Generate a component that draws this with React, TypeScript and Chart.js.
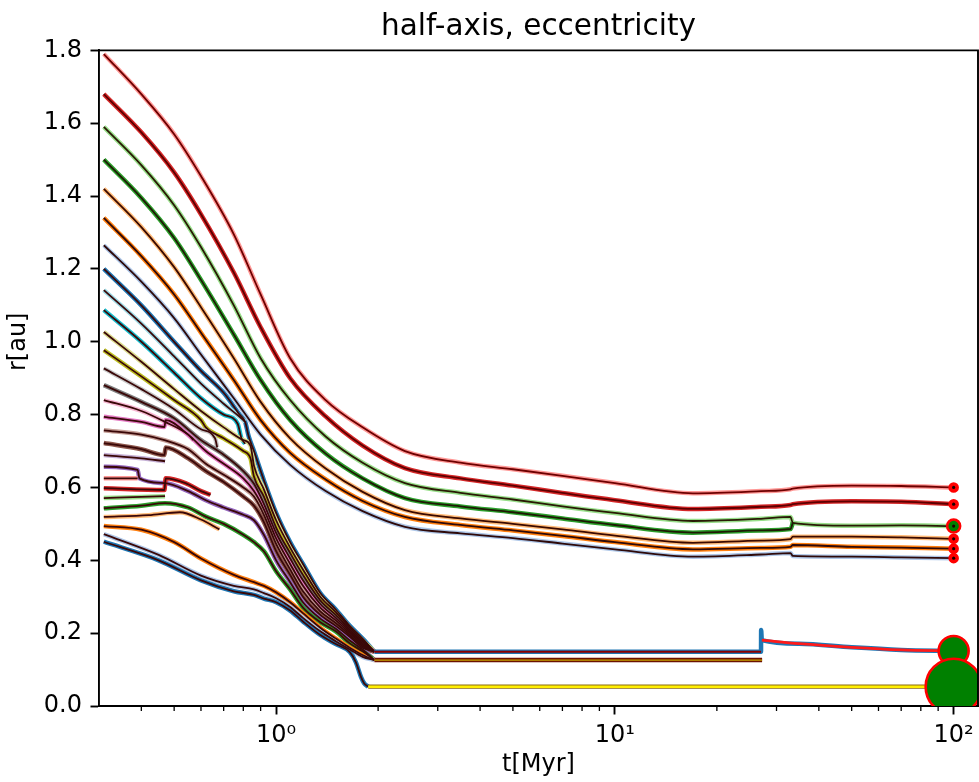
import React, { useEffect, useRef } from 'react';
import { Chart, registerables } from 'chart.js';
Chart.register(...registerables);

// ---------- palette (tab20) ----------
const TAB20 = ['#1f77b4', '#aec7e8', '#ff7f0e', '#ffbb78', '#2ca02c', '#98df8a', '#d62728', '#ff9896', '#9467bd', '#c5b0d5',
  '#8c564b', '#c49c94', '#e377c2', '#f7b6d2', '#7f7f7f', '#c7c7c7', '#bcbd22', '#dbdb8d', '#17becf', '#9edae5'];

// ---------- axis ticks ----------
const X_MAJOR_TICKS = [1, 10, 100];
const X_MAJOR_LABELS = ['10\u2070', '10\u00b9', '10\u00b2'];
const X_MINOR_TICKS = [0.4, 0.5, 0.6, 0.7, 0.8, 0.9, 2, 3, 4, 5, 6, 7, 8, 9, 20, 30, 40, 50, 60, 70, 80, 90];
const Y_TICKS = [0, 0.2, 0.4, 0.6, 0.8, 1.0, 1.2, 1.4, 1.6, 1.8];
const Y_TITLE = 'r[au]';

// ---------- outer (surviving) planets: common time grid [Myr] ----------
const T_OUT = [0.31, 0.4, 0.5, 0.6, 0.75, 0.9, 1.1, 1.4, 1.8, 2.4, 3.5, 5, 7, 10, 17, 27, 33, 33.5, 50, 70, 100];
const R_OUT_27 = [1.79, 1.68, 1.57, 1.455, 1.295, 1.13, 0.955, 0.84, 0.765, 0.70, 0.668, 0.65, 0.632, 0.612, 0.584, 0.590, 0.595, 0.597, 0.605, 0.604, 0.600];
const R_OUT_26 = [1.68, 1.575, 1.465, 1.35, 1.19, 1.04, 0.90, 0.795, 0.715, 0.653, 0.625, 0.605, 0.585, 0.565, 0.541, 0.547, 0.552, 0.554, 0.562, 0.561, 0.554];
const R_OUT_25 = [1.59, 1.485, 1.375, 1.26, 1.10, 0.955, 0.84, 0.74, 0.668, 0.612, 0.585, 0.567, 0.548, 0.530, 0.508, 0.514, 0.519, 0.503, 0.495, 0.496, 0.494];
const R_OUT_24 = [1.50, 1.395, 1.285, 1.17, 1.02, 0.895, 0.785, 0.693, 0.625, 0.571, 0.548, 0.532, 0.515, 0.497, 0.476, 0.482, 0.486, 0.503, null, null, null];
const R_OUT_23 = [1.42, 1.315, 1.205, 1.095, 0.955, 0.835, 0.735, 0.652, 0.588, 0.538, 0.515, 0.50, 0.485, 0.468, 0.448, 0.454, 0.458, 0.465, 0.465, 0.463, 0.459];
const R_OUT_22 = [1.34, 1.235, 1.13, 1.025, 0.895, 0.785, 0.695, 0.622, 0.563, 0.519, 0.497, 0.482, 0.467, 0.45, 0.43, 0.434, 0.437, 0.442, 0.437, 0.435, 0.432];
const R_OUT_21 = [1.265, 1.165, 1.065, 0.965, 0.845, 0.745, 0.662, 0.59, 0.535, 0.492, 0.474, 0.461, 0.446, 0.43, 0.41, 0.416, 0.42, 0.412, 0.41, 0.408, 0.406];

// ---------- inner planets: early tracks [t, r] ----------
const P20 = [[0.31, 1.20], [0.4, 1.10], [0.5, 1.00], [0.6, 0.92], [0.7, 0.86], [0.78, 0.80], [0.81, 0.78], [0.83, 0.74]];
const P19 = [[0.31, 1.142], [0.4, 1.05], [0.5, 0.96], [0.6, 0.885], [0.7, 0.83], [0.8, 0.785], [0.81, 0.78]];
const P18 = [[0.31, 1.087], [0.4, 1.0], [0.5, 0.915], [0.6, 0.845], [0.7, 0.80], [0.77, 0.775], [0.79, 0.735], [0.81, 0.72]];
const P17 = [[0.31, 1.027], [0.4, 0.945], [0.5, 0.87], [0.6, 0.81], [0.7, 0.765], [0.8, 0.73], [0.84, 0.715]];
const P16 = [[0.31, 0.977], [0.4, 0.905], [0.5, 0.84], [0.6, 0.785], [0.62, 0.765], [0.7, 0.735], [0.8, 0.70], [0.84, 0.68]];
const P15 = [[0.31, 0.927], [0.4, 0.87], [0.5, 0.815], [0.6, 0.76], [0.66, 0.735], [0.67, 0.71]];
const P14 = [[0.31, 0.881], [0.4, 0.835], [0.5, 0.79], [0.6, 0.73], [0.7, 0.69], [0.8, 0.645]];
const P13 = [[0.31, 0.84], [0.4, 0.81], [0.47, 0.78], [0.55, 0.745], [0.57, 0.73]];
const P12 = [[0.31, 0.794], [0.4, 0.78], [0.468, 0.766], [0.472, 0.785], [0.55, 0.745], [0.62, 0.70], [0.7, 0.665], [0.8, 0.625]];
const P11 = [[0.31, 0.757], [0.4, 0.745], [0.468, 0.73], [0.55, 0.705], [0.62, 0.665], [0.7, 0.635], [0.8, 0.60]];
const P10 = [[0.31, 0.722], [0.4, 0.705], [0.468, 0.689], [0.472, 0.71], [0.55, 0.68], [0.62, 0.645], [0.7, 0.615], [0.8, 0.575]];
const P09 = [[0.31, 0.689], [0.4, 0.68], [0.47, 0.672]];
const P08 = [[0.31, 0.657], [0.39, 0.648], [0.395, 0.625], [0.468, 0.612], [0.55, 0.59], [0.62, 0.565], [0.7, 0.545], [0.8, 0.525]];
const P07 = [[0.31, 0.625], [0.39, 0.625]];
const P06 = [[0.31, 0.598], [0.468, 0.593], [0.472, 0.625], [0.54, 0.612], [0.6, 0.59], [0.64, 0.58]];
const P05 = [[0.31, 0.571], [0.4, 0.574], [0.47, 0.576]];
const P04 = [[0.31, 0.543], [0.4, 0.55], [0.47, 0.557], [0.55, 0.545], [0.62, 0.52], [0.7, 0.50], [0.8, 0.47]];
const P03 = [[0.31, 0.519], [0.42, 0.524], [0.52, 0.532], [0.6, 0.512], [0.68, 0.485]];
const P02 = [[0.31, 0.494], [0.4, 0.484], [0.5, 0.45], [0.6, 0.405], [0.75, 0.36]];
const P01 = [[0.31, 0.472], [0.45, 0.415], [0.6, 0.358], [0.75, 0.33]];
const P00 = [[0.31, 0.451], [0.45, 0.40], [0.6, 0.345], [0.75, 0.315]];

// ---------- inner planets: converging bundle ----------
const T_BUNDLE = [0.86, 0.92, 1.0, 1.1, 1.2, 1.35, 1.5, 1.65, 1.8, 1.95];
const B20 = [0.70, 0.62, 0.53, 0.45, 0.39, 0.31, 0.265, 0.22, 0.185, 0.149];
const B17 = [0.66, 0.595, 0.51, 0.435, 0.375, 0.30, 0.258, 0.215, 0.18, 0.149];
const B16 = [0.63, 0.575, 0.49, 0.42, 0.36, 0.29, 0.25, 0.21, 0.176, 0.149];
const B14 = [0.61, 0.555, 0.475, 0.405, 0.345, 0.28, 0.242, 0.205, 0.172, 0.149];
const B12 = [0.59, 0.54, 0.46, 0.39, 0.33, 0.27, 0.235, 0.20, 0.168, 0.149];
const B11 = [0.575, 0.525, 0.445, 0.375, 0.315, 0.26, 0.228, 0.195, 0.164, 0.149];
const B10 = [0.55, 0.505, 0.425, 0.36, 0.30, 0.25, 0.22, 0.19, 0.16, 0.149];
const B08 = [0.51, 0.47, 0.40, 0.34, 0.285, 0.24, 0.212, 0.18, 0.155, 0.126];
const B04 = [0.45, 0.425, 0.37, 0.32, 0.27, 0.23, 0.205, 0.172, 0.15, 0.126];
const B02 = [0.34, 0.33, 0.312, 0.285, 0.255, 0.215, 0.185, 0.16, 0.14, 0.126];
const B01 = [0.32, 0.31, 0.296, 0.272, 0.242, 0.205, 0.178, 0.155, 0.135, 0.126];
const B00 = [0.305, 0.295, 0.285, 0.262, 0.232, 0.195, 0.17, 0.148];
const YELLOW_DROP = [[1.72, 0.12], [1.78, 0.08], [1.82, 0.062], [1.87, 0.053]];

// ---------- late inner survivors ----------
const FIN_A_T = [1.95, 27, 27.02, 27.15, 35, 50, 70, 100];
const FIN_A_R = [0.149, 0.149, 0.209, 0.181, 0.171, 0.161, 0.154, 0.151];
const FIN_B_T = [1.95, 27.2];
const FIN_B_R = [0.126, 0.126];
const FIN_C_T = [1.87, 100];
const FIN_C_R = [0.053, 0.053];

// ---------- final bodies at t = 100 Myr ----------
const END_T = [100, 100, 100, 100, 100, 100, 100, 100];
const END_R = [0.600, 0.554, 0.494, 0.459, 0.432, 0.406, 0.151, 0.053];
const MARKER_RADII = [4, 4, 6.5, 4, 4, 4, 15, 28];
const MARKER_FILL = ['#ff0000', '#ff0000', '#008000', '#ff0000', '#ff0000', '#ff0000', '#008000', '#008000'];

// ---------- helpers ----------
const zip = (ts: number[], rs: (number | null)[]) =>
  ts.map((t, i) => [t, rs[i]] as [number, number | null]).filter((p) => p[1] !== null) as [number, number][];

const INNER_DARK = '#3a0808';

function lineDs(points: [number, number][] | number[][], color: string, width: number, order: number) {
  return {
    type: 'line' as const,
    data: points.map((p) => ({ x: p[0], y: p[1] })),
    borderColor: color,
    backgroundColor: color,
    borderWidth: width,
    pointRadius: 0,
    fill: false,
    cubicInterpolationMode: 'monotone' as const,
    order,
  };
}

const framePlugin = {
  id: 'frame',
  afterDraw(chart: any) {
    const { ctx, chartArea, scales } = chart;
    ctx.save();
    ctx.strokeStyle = '#000';
    ctx.lineWidth = 1.9;
    ctx.beginPath();
    ctx.moveTo(chartArea.left, chartArea.top);
    ctx.lineTo(chartArea.right, chartArea.top);
    ctx.lineTo(chartArea.right, chartArea.bottom);
    ctx.stroke();
    ctx.lineWidth = 1.3;
    ctx.beginPath();
    for (const v of X_MINOR_TICKS) {
      const x = scales.x.getPixelForValue(v);
      ctx.moveTo(x, chartArea.bottom);
      ctx.lineTo(x, chartArea.bottom + 4.9);
    }
    ctx.stroke();
    // small dark centres of the final bodies (line ends)
    ctx.fillStyle = '#1a0000';
    END_T.forEach((t, i) => {
      if (MARKER_RADII[i] > 7) return;
      const x = scales.x.getPixelForValue(t);
      const y = scales.y.getPixelForValue(END_R[i]);
      ctx.beginPath();
      ctx.arc(x, y, 1.6, 0, Math.PI * 2);
      ctx.fill();
    });
    // y-axis label
    ctx.fillStyle = '#000';
    ctx.font = '24px "DejaVu Sans"';
    ctx.textAlign = 'center';
    ctx.textBaseline = 'middle';
    ctx.translate(19, scales.y.getPixelForValue(1.0));
    ctx.rotate(-Math.PI / 2);
    ctx.fillText(Y_TITLE, 0, 0);
    ctx.restore();
  },
};

export default function App() {
  const ref = useRef<HTMLCanvasElement>(null);

  useEffect(() => {
    if (!ref.current) return;

    const datasets: any[] = [];
    const addPair = (pts: any[], color: string, dark: string, order: number) => {
      datasets.push(lineDs(pts, color, 4.5, order + 1));
      datasets.push(lineDs(pts, dark, 1.8, order));
    };

    // inner planets
    const inner: [number, number[][], number[] | null, string][] = [
      [0, P00, null, INNER_DARK],
      [1, P01, B01, INNER_DARK],
      [2, P02, B02, INNER_DARK],
      [3, P03, null, INNER_DARK],
      [4, P04, B04, INNER_DARK],
      [5, P05, null, INNER_DARK],
      [6, P06, null, INNER_DARK],
      [7, P07, null, INNER_DARK],
      [8, P08, B08, INNER_DARK],
      [9, P09, null, INNER_DARK],
      [10, P10, B10, INNER_DARK],
      [11, P11, B11, INNER_DARK],
      [12, P12, B12, INNER_DARK],
      [13, P13, null, INNER_DARK],
      [14, P14, B14, INNER_DARK],
      [15, P15, null, INNER_DARK],
      [16, P16, B16, INNER_DARK],
      [17, P17, B17, INNER_DARK],
      [18, P18, null, INNER_DARK],
      [19, P19, null, INNER_DARK],
      [20, P20, B20, INNER_DARK],
    ];
    inner.forEach(([idx, early, bundle, dark]) => {
      let pts: number[][] = early.slice();
      if (bundle) pts = pts.concat(zip(T_BUNDLE.slice(0, bundle.length), bundle));
      if (idx === 0) pts = pts.concat(zip(T_BUNDLE.slice(0, B00.length), B00), YELLOW_DROP);
      addPair(pts, TAB20[idx % 20], dark, 20);
    });

    // outer planets
    const outer: [number, (number | null)[], string][] = [
      [21, R_OUT_21, '#2e0a0a'],
      [22, R_OUT_22, '#2e0a0a'],
      [23, R_OUT_23, '#3a0a00'],
      [24, R_OUT_24, '#1f1a05'],
      [25, R_OUT_25, '#2a1a05'],
      [26, R_OUT_26, '#5c0000'],
      [27, R_OUT_27, '#6e0000'],
    ];
    outer.forEach(([idx, rs, dark]) => addPair(zip(T_OUT, rs), TAB20[idx % 20], dark, 10));

    // late survivors
    const finA = zip(FIN_A_T, FIN_A_R);
    datasets.push(lineDs(finA, TAB20[0], 4.5, 7));
    datasets.push(lineDs(finA.slice(0, 2), '#8b0000', 2, 6));
    datasets.push(lineDs(finA.slice(3), '#ff1a1a', 2.8, 6));
    const finB = zip(FIN_B_T, FIN_B_R);
    datasets.push(lineDs(finB, '#6b1200', 4.5, 7));
    datasets.push(lineDs(finB, '#c8a400', 1.4, 6));
    const finC = zip(FIN_C_T, FIN_C_R);
    datasets.push(lineDs(finC, '#8a6a10', 4.2, 7));
    datasets.push(lineDs(finC, '#ffee00', 2.4, 6));

    // end bodies
    datasets.push({
      type: 'scatter',
      data: END_T.map((t, i) => ({ x: t, y: END_R[i] })),
      pointRadius: MARKER_RADII,
      pointBackgroundColor: MARKER_FILL,
      pointBorderColor: '#ff0000',
      pointBorderWidth: 2.6,
      order: 0,
      clip: 0,
    });

    const tickFont = { family: 'DejaVu Sans', size: 24 };
    const chart = new Chart(ref.current, {
      type: 'line',
      data: { datasets },
      plugins: [framePlugin],
      options: {
        animation: false,
        responsive: false,
        events: [],
        parsing: false as any,
        normalized: true,
        layout: { autoPadding: false, padding: { left: 0, right: 1, top: 0, bottom: 0 } },
        plugins: {
          legend: { display: false },
          tooltip: { enabled: false },
          title: {
            display: true,
            fullSize: false,
            text: 'half-axis, eccentricity',
            color: '#000',
            font: { family: 'DejaVu Sans', size: 29.5, weight: 'normal' as any },
            padding: { top: 9.6, bottom: 5.4 },
          },
        },
        scales: {
          x: {
            type: 'logarithmic',
            min: 0.31,
            max: 118,
            afterBuildTicks: (s: any) => {
              s.ticks = X_MAJOR_TICKS.map((v) => ({ value: v, major: true }));
            },
            afterFit: (s: any) => {
              s.height = 76;
              s.paddingLeft = 0;
              s.paddingRight = 0;
            },
            ticks: {
              color: '#000',
              font: tickFont,
              padding: 7,
              maxRotation: 0,
              autoSkip: false,
              callback: (v: any) => {
                const i = X_MAJOR_TICKS.indexOf(Number(v));
                return i >= 0 ? X_MAJOR_LABELS[i] : '';
              },
            },
            grid: { display: true, drawOnChartArea: false, drawTicks: true, tickLength: 8.5, tickWidth: 1.9, tickColor: '#000' },
            border: { display: true, color: '#000', width: 1.9 },
            title: {
              display: true,
              text: 't[Myr]',
              color: '#000',
              font: { family: 'DejaVu Sans', size: 24 },
              padding: { top: 0, bottom: 2.5 },
            },
          },
          y: {
            type: 'linear',
            min: 0,
            max: 1.8,
            afterBuildTicks: (s: any) => {
              s.ticks = Y_TICKS.map((v) => ({ value: v }));
            },
            afterFit: (s: any) => {
              s.width = 99;
              s.paddingTop = 0;
              s.paddingBottom = 0;
            },
            ticks: {
              color: '#000',
              font: tickFont,
              padding: 8.5,
              callback: (v: any) => Number(v).toFixed(1),
            },
            grid: { display: true, drawOnChartArea: false, drawTicks: true, tickLength: 8.5, tickWidth: 1.9, tickColor: '#000' },
            border: { display: true, color: '#000', width: 1.9 },
            title: { display: false },
          },
        },
      },
    } as any);
    return () => chart.destroy();
  }, []);

  return (
    <div style={{ position: 'absolute', left: 0, top: 0, width: 979, height: 782, background: '#fff' }}>
      <canvas ref={ref} width={979} height={782} />
    </div>
  );
}
